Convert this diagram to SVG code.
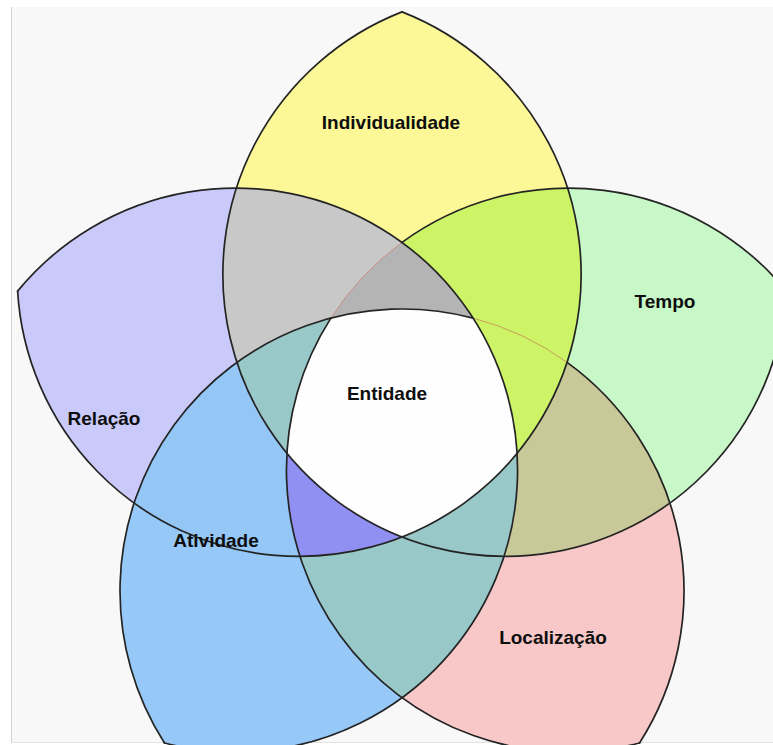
<svg xmlns="http://www.w3.org/2000/svg" width="773" height="745" viewBox="0 0 773 745">
  <style>
    .lbl { font-family: "Liberation Sans", Arial, sans-serif; font-weight: bold; font-size: 19px; fill: #0e0e0e; text-anchor: middle; }
    .edge { fill: none; stroke: #242424; stroke-width: 1.7; stroke-linecap: round; }
    .faint-red { fill: none; stroke: #c98c8c; stroke-width: 1; }
    .faint-olive { fill: none; stroke: #c9a15a; stroke-width: 1; }
  </style>
  <defs>
    <!-- five equal disks, centres 175 from (402,416), radius 282; each petal is the lens of two neighbours -->
    <clipPath id="c0"><circle cx="299.14" cy="274.42" r="282"/></clipPath>
    <clipPath id="c1"><circle cx="504.86" cy="274.42" r="282"/></clipPath>
    <clipPath id="c2"><circle cx="568.44" cy="470.08" r="282"/></clipPath>
    <clipPath id="c3"><circle cx="402" cy="591" r="282"/></clipPath>
    <clipPath id="c4"><circle cx="235.56" cy="470.08" r="282"/></clipPath>
    <circle id="k0" cx="299.14" cy="274.42" r="282"/>
    <circle id="k1" cx="504.86" cy="274.42" r="282"/>
    <circle id="k2" cx="568.44" cy="470.08" r="282"/>
    <circle id="k3" cx="402" cy="591" r="282"/>
    <circle id="k4" cx="235.56" cy="470.08" r="282"/>
  </defs>

  <!-- page background with a thin frame on the left -->
  <rect x="0" y="0" width="773" height="745" fill="#ffffff"/>
  <rect x="11.5" y="7" width="762" height="736" fill="#f8f8f8"/>
  <line x1="11.5" y1="7" x2="11.5" y2="743" stroke="#d2d2d2" stroke-width="1"/>
  <line x1="11.5" y1="742.5" x2="773" y2="742.5" stroke="#e2e2e2" stroke-width="1"/>

  <!-- petals -->
  <g id="petals">
    <g id="individualidade"><path fill="#fcf898" d="M402,11.85 A282,282 0 0 1 402,536.99 A282,282 0 0 1 402,11.85Z"/></g>
    <g id="tempo"><path fill="#c8f8c8" d="M786.37,291.11 A282,282 0 0 1 286.93,453.39 A282,282 0 0 1 786.37,291.11Z"/></g>
    <g id="localizacao"><path fill="#f8c8c8" d="M639.55,742.96 A282,282 0 0 1 330.88,318.12 A282,282 0 0 1 639.55,742.96Z"/></g>
    <g id="atividade"><path fill="#96c8f8" d="M164.45,742.96 A282,282 0 0 1 473.12,318.12 A282,282 0 0 1 164.45,742.96Z"/></g>
    <g id="relacao"><path fill="#cacafa" d="M17.63,291.11 A282,282 0 0 1 517.07,453.39 A282,282 0 0 1 17.63,291.11Z"/></g>
  </g>

  <!-- overlaps of two neighbouring petals (three disks) -->
  <g id="pairs">
    <g clip-path="url(#c0)"><g clip-path="url(#c1)"><use href="#k4" fill="#c8c8c8"/></g></g>
    <g clip-path="url(#c0)"><g clip-path="url(#c1)"><use href="#k2" fill="#ccf466"/></g></g>
    <g clip-path="url(#c1)"><g clip-path="url(#c2)"><use href="#k3" fill="#c9c898"/></g></g>
    <g clip-path="url(#c2)"><g clip-path="url(#c3)"><use href="#k4" fill="#98c8c8"/></g></g>
    <g clip-path="url(#c3)"><g clip-path="url(#c4)"><use href="#k0" fill="#94c6f6"/></g></g>
  </g>

  <!-- overlaps of three petals (four disks) -->
  <g id="triples">
    <g clip-path="url(#c4)"><g clip-path="url(#c0)"><g clip-path="url(#c1)"><use href="#k2" fill="#b4b4b4"/></g></g></g>
    <g clip-path="url(#c0)"><g clip-path="url(#c1)"><g clip-path="url(#c2)"><use href="#k3" fill="#ccf466"/></g></g></g>
    <g clip-path="url(#c1)"><g clip-path="url(#c2)"><g clip-path="url(#c3)"><use href="#k4" fill="#98c8c8"/></g></g></g>
    <g clip-path="url(#c2)"><g clip-path="url(#c3)"><g clip-path="url(#c4)"><use href="#k0" fill="#9090f2"/></g></g></g>
    <g clip-path="url(#c3)"><g clip-path="url(#c4)"><g clip-path="url(#c0)"><use href="#k1" fill="#98c8c8"/></g></g></g>
  </g>

  <!-- common core of all five petals -->
  <g id="entidade">
    <g clip-path="url(#c1)"><g clip-path="url(#c2)"><g clip-path="url(#c3)"><g clip-path="url(#c4)"><use href="#k0" fill="#fefefe"/></g></g></g></g>
  </g>

  <!-- circle arcs, each running between the outer tips of the two petals it bounds -->
  <g id="outlines">
    <path class="edge" d="M402,11.85 A282,282 0 1 1 17.63,291.11"/>
    <path class="edge" d="M786.37,291.11 A282,282 0 1 1 402,11.85"/>
    <path class="edge" d="M639.55,742.96 A282,282 0 0 1 330.88,318.12"/>
    <path class="faint-red" d="M330.88,318.12 A282,282 0 0 1 402,242.43"/>
    <path class="edge" d="M402,242.43 A282,282 0 0 1 786.37,291.11"/>
    <path class="edge" d="M164.45,742.96 A282,282 0 0 1 473.12,318.12"/>
    <path class="faint-olive" d="M473.12,318.12 A282,282 0 0 1 567.08,362.36"/>
    <path class="edge" d="M567.08,362.36 A282,282 0 0 1 639.55,742.96"/>
    <path class="edge" d="M17.63,291.11 A282,282 0 1 1 164.45,742.96"/>
  </g>

  <g id="labels">
    <text class="lbl" x="391" y="129">Individualidade</text>
    <text class="lbl" x="665" y="308">Tempo</text>
    <text class="lbl" x="104" y="425">Relação</text>
    <text class="lbl" x="387" y="400">Entidade</text>
    <text class="lbl" x="216" y="547">Atividade</text>
    <text class="lbl" x="553" y="644">Localização</text>
  </g>
</svg>
